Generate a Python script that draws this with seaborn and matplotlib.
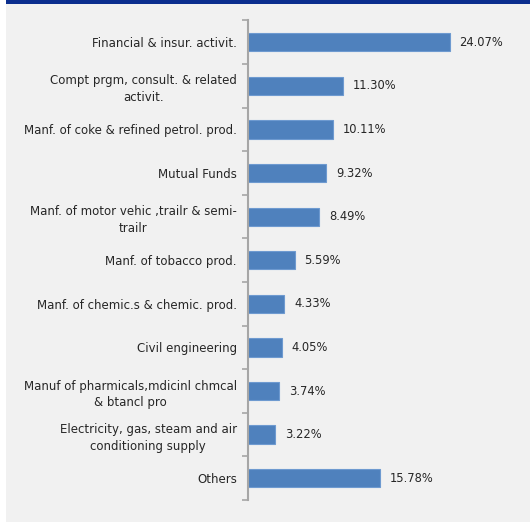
import matplotlib
matplotlib.use("Agg")
import matplotlib.pyplot as plt
from matplotlib.patches import Rectangle
import seaborn as sns
import pandas as pd
import numpy as np

categories = [
    "Financial & insur. activit.",
    "Compt prgm, consult. & related\nactivit.",
    "Manf. of coke & refined petrol. prod.",
    "Mutual Funds",
    "Manf. of motor vehic ,trailr & semi-\ntrailr",
    "Manf. of tobacco prod.",
    "Manf. of chemic.s & chemic. prod.",
    "Civil engineering",
    "Manuf of pharmicals,mdicinl chmcal\n& btancl pro",
    "Electricity, gas, steam and air\nconditioning supply",
    "Others",
]
shares = [24.07, 11.30, 10.11, 9.32, 8.49, 5.59, 4.33, 4.05, 3.74, 3.22, 15.78]
value_labels = [f"{v:.2f}%" for v in shares]

df = pd.DataFrame({"sector": categories, "share": shares})

sns.set_theme(style="white")
plt.rcParams["font.family"] = ["DejaVu Sans"]

W, H, DPI = 530, 522, 100
fig = plt.figure(figsize=(W / DPI, H / DPI), dpi=DPI)
fig.patch.set_facecolor("white")

# panel background and header strip
fig.add_artist(Rectangle((6 / W, 0), 1 - 6 / W, 1, transform=fig.transFigure,
                         facecolor="#F1F1F1", edgecolor="none", zorder=0))
fig.add_artist(Rectangle((6 / W, 1 - 3.5 / H), 1 - 6 / W, 3.5 / H, transform=fig.transFigure,
                         facecolor="#0B2E8E", edgecolor="none", zorder=1))

x0, x1 = 248, 248 + 30 * 8.38
y_top, y_bot = 20.5, 500
ax = fig.add_axes([x0 / W, 1 - y_bot / H, (x1 - x0) / W, (y_bot - y_top) / H])
ax.set_facecolor("none")

sns.barplot(data=df, y="sector", x="share", orient="h", color="#4F81BD",
            width=0.42, edgecolor="#6E9AD0", linewidth=0.8, saturation=1, ax=ax)

ax.set_xlim(0, 30)
ax.set_ylim(len(categories) - 0.5, -0.5)
ax.set_xlabel("")
ax.set_ylabel("")
ax.set_xticks([])

for s in ["top", "right", "bottom"]:
    ax.spines[s].set_visible(False)
ax.spines["left"].set_color("#A6A6A6")
ax.spines["left"].set_linewidth(1.5)

ax.set_yticks(range(len(categories)))
ax.set_yticklabels(categories, fontsize=8.5, color="#262626")
for t in ax.get_yticklabels():
    t.set_multialignment("center")
    t.set_linespacing(1.35)
ax.tick_params(axis="y", which="major", length=0, pad=8)

# category boundary ticks on the left axis
ax.set_yticks(np.arange(-0.5, len(categories), 1), minor=True)
ax.tick_params(axis="y", which="minor", left=True, length=4, width=1.2,
               color="#A6A6A6", direction="out")

for i, (v, lab) in enumerate(zip(shares, value_labels)):
    ax.annotate(lab, xy=(v, i), xytext=(7, 0), textcoords="offset points",
                va="center", ha="left", fontsize=8.3, color="#262626")

fig.savefig("out.png", dpi=DPI)
